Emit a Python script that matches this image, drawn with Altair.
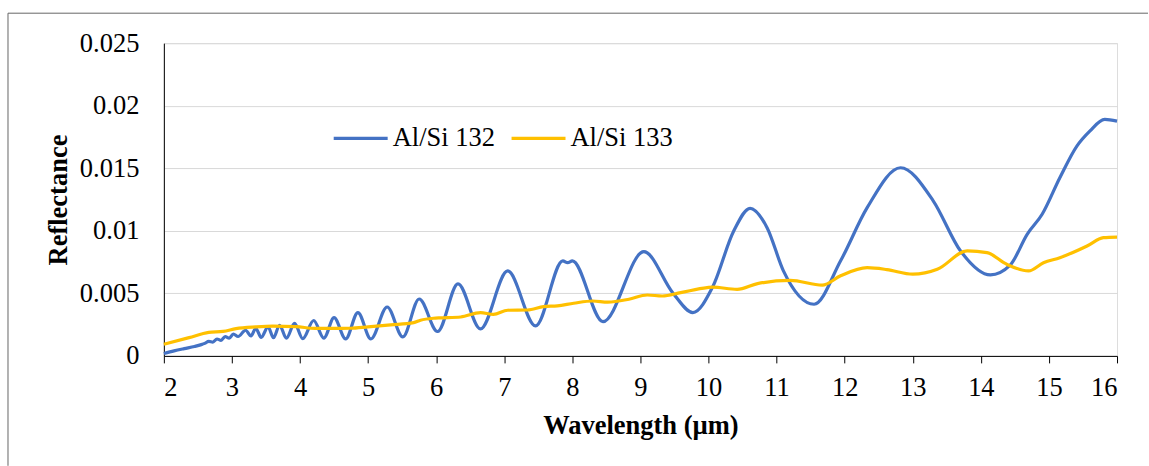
import altair as alt
import pandas as pd

# Al/Si 132 (blue) - wavelength (um) and reflectance
w132 = [2.00, 2.15, 2.30, 2.45, 2.55, 2.60, 2.66, 2.72, 2.78, 2.84, 2.90, 2.96, 3.02, 3.09,
        3.20, 3.28, 3.35, 3.43, 3.53, 3.61, 3.70, 3.80, 3.92, 4.04, 4.20, 4.35, 4.50, 4.67,
        4.85, 5.04, 5.28, 5.51, 5.75, 6.02, 6.32, 6.65, 7.05, 7.46, 7.86, 7.93, 8.00, 8.45,
        9.05, 9.48, 9.77, 10.06, 10.37, 10.61, 10.86, 11.10, 11.55, 11.94, 12.33, 12.82,
        13.30, 13.70, 14.14, 14.43, 14.68, 14.90, 15.16, 15.41, 15.60, 15.82, 16.00]
r132 = [0.00019, 0.00040, 0.00058, 0.00075, 0.00090, 0.00100, 0.00116, 0.00110, 0.00135, 0.00124,
        0.00155, 0.00142, 0.00175, 0.00155, 0.00205, 0.00160, 0.00221, 0.00148, 0.00232, 0.00145,
        0.00245, 0.00141, 0.00260, 0.00138, 0.00283, 0.00142, 0.00306, 0.00136, 0.00346, 0.00136,
        0.00391, 0.00152, 0.00455, 0.00195, 0.00575, 0.00216, 0.00679, 0.00240, 0.00760, 0.00745,
        0.00760, 0.00274, 0.00833, 0.00500, 0.00346, 0.00550, 0.00998, 0.01180, 0.01025, 0.00680,
        0.00413, 0.00760, 0.01185, 0.01504, 0.01240, 0.00840, 0.00647, 0.00725, 0.00972, 0.01132,
        0.01424, 0.01677, 0.01797, 0.01890, 0.01877]

# Al/Si 133 (yellow)
w133 = [2.00, 2.37, 2.66, 2.87, 3.06, 3.35, 3.60, 3.94, 4.22, 4.74, 5.00, 5.33, 5.67, 5.77,
        5.96, 6.07, 6.36, 6.65, 6.84, 7.05, 7.34, 7.58, 7.78, 8.02, 8.30, 8.52, 8.83, 9.10,
        9.32, 9.59, 9.98, 10.06, 10.42, 10.72, 11.20, 11.67, 11.94, 12.33, 12.62, 13.00,
        13.36, 13.80, 14.09, 14.38, 14.70, 14.92, 15.16, 15.56, 15.80, 16.00]
r133 = [0.00093, 0.00146, 0.00188, 0.00196, 0.00218, 0.00232, 0.00238, 0.00234, 0.00220, 0.00221,
        0.00232, 0.00248, 0.00266, 0.00285, 0.00301, 0.00304, 0.00311, 0.00346, 0.00332, 0.00365,
        0.00367, 0.00394, 0.00400, 0.00421, 0.00439, 0.00430, 0.00453, 0.00487, 0.00479, 0.00506,
        0.00546, 0.00550, 0.00532, 0.00578, 0.00604, 0.00565, 0.00640, 0.00705, 0.00690, 0.00653,
        0.00692, 0.00839, 0.00825, 0.00732, 0.00679, 0.00745, 0.00785, 0.00879, 0.00945, 0.00950]

series_names = ["Al/Si 132", "Al/Si 133"]
series_colors = ["#4472C4", "#FFC000"]
x_ticks = list(range(2, 17))
y_ticks = [0, 0.005, 0.01, 0.015, 0.02, 0.025]

df = pd.concat([
    pd.DataFrame({"w": w132, "r": r132, "s": series_names[0]}),
    pd.DataFrame({"w": w133, "r": r133, "s": series_names[1]}),
])

FONT = "Liberation Serif"
FS = 26.5

lines = alt.Chart(df).mark_line(strokeWidth=3.2, interpolate="monotone").encode(
    x=alt.X("w:Q",
            scale=alt.Scale(domain=[2, 16], nice=False, zero=False),
            axis=alt.Axis(values=x_ticks, title="Wavelength (µm)", grid=False,
                          domainColor="black", tickColor="black", tickSize=7,
                          labelPadding=12, labelFont=FONT, labelFontSize=FS,
                          labelColor="black", titleFont=FONT, titleFontSize=FS,
                          titleFontWeight="bold", titleColor="black",
                          titleBaseline="alphabetic", titleY=78)),
    y=alt.Y("r:Q",
            scale=alt.Scale(domain=[0, 0.025], nice=False),
            axis=alt.Axis(values=y_ticks, format="~g", title="Reflectance",
                          grid=True, gridColor="#d9d9d9", gridWidth=1,
                          domainColor="black", ticks=False, labelPadding=25,
                          labelFont=FONT, labelFontSize=FS, labelColor="black",
                          titleFont=FONT, titleFontSize=FS, titleFontWeight="bold",
                          titleColor="black", titleAngle=270, titleBaseline="middle",
                          titleAlign="center", titleX=-105, titleY=156.5)),
    color=alt.Color("s:N",
                    scale=alt.Scale(domain=series_names, range=series_colors),
                    legend=alt.Legend(title=None, orient="none", legendX=168, legendY=66,
                                      direction="horizontal", symbolType="stroke",
                                      symbolSize=2916, symbolStrokeWidth=3.2,
                                      labelFont=FONT, labelFontSize=FS,
                                      labelColor="black", labelOffset=3,
                                      columnPadding=9)),
)

frame_src = pd.DataFrame({"k": [0]})
top_border = alt.Chart(frame_src).mark_rule(color="#666666", strokeWidth=1).encode(
    x=alt.value(-156), x2=alt.value(985), y=alt.value(-30))
left_border = alt.Chart(frame_src).mark_rule(color="#666666", strokeWidth=1).encode(
    x=alt.value(-156), y=alt.value(-30), y2=alt.value(423))

chart = alt.layer(lines, top_border, left_border).properties(
    width=954, height=313,
    padding={"left": 7, "top": 12, "right": 0, "bottom": 0},
    background="white",
).configure_view(stroke=None).configure_legend(
    labelFont=FONT, labelFontSize=FS, labelColor="black"
).configure(font=FONT)

chart.save("out.html", embed_options={"renderer": "svg", "actions": False})
